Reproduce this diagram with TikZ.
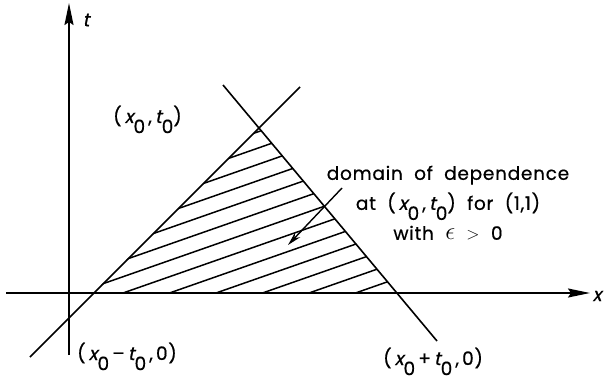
\documentclass[tikz,border=0pt]{standalone}
\usepackage{fontspec}
\setmainfont{Poppins}[LetterSpace=4, FakeBold=0.6]
\newfontfamily\slantfont[FakeSlant=0.22, LetterSpace=4, FakeBold=0.6]{Poppins}
\usetikzlibrary{arrows.meta}
\newcommand{\vx}{{\slantfont x}}
\newcommand{\vt}{{\slantfont t}}
\newcommand{\zs}{\raisebox{-0.55em}{0}}

\begin{document}
\begin{tikzpicture}[x=1pt, y=-1pt,
    axis/.style={line width=1.8pt, -{Stealth[length=22pt, width=9pt, inset=3pt]}},
    charline/.style={line width=1.6pt},
    hatch/.style={line width=1.5pt},
    lbl/.style={inner sep=0pt, font=\fontsize{18.5}{30}\selectfont, align=center}
  ]
  \useasboundingbox (0,0) rectangle (604,382);

  % corners of the domain
  \coordinate (L) at (93,293);
  \coordinate (A) at (259,128);
  \coordinate (R) at (397,293);

  % hatching
  \begin{scope}
    \clip (L) -- (A) -- (R) -- cycle;
    \foreach \k in {0,...,12} {
      \pgfmathsetmacro{\c}{-202.5+46.5*\k}
      \draw[hatch] (\c-100, 328) -- (\c+500, 118);
    }
  \end{scope}

  % axes
  \coordinate (tb) at (69,355);
  \coordinate (tt) at (69,3);
  \coordinate (xl) at (6,293);
  \coordinate (xr) at (590,293);
  \draw[axis] (tb) -- (tt);
  \draw[axis] (xl) -- (xr);

  % characteristics
  \coordinate (c1a) at (30,357);
  \coordinate (c1b) at (300,87);
  \coordinate (c2a) at (223,85);
  \coordinate (c2b) at (437,341);
  \draw[charline] (c1a) -- (c1b);
  \draw[charline] (c2a) -- (c2b);

  % labels
  \node[lbl] (tlab) at (86,20) {\vt};
  \node[lbl] (xlab) at (597,296) {\vx};
  \node[lbl, anchor=base west] (apex) at (113,123) {(\,\vx\zs\,,\,\vt\zs)};
  \node[lbl, anchor=base west] (left) at (77,360) {(\,\vx\zs\,--\,\vt\zs\,,\,0)};
  \node[lbl, anchor=base west] (right) at (383,365) {(\,\vx\zs\,+\,\vt\zs\,,\,0)};
  \node[lbl] (dom) at (448,203) {domain\ \ of\ \ dependence\\
    at\ \ (\,\vx\zs\,,\,\vt\zs)\ \ for\ \ (1,1)\\
    with\ \ {\fontsize{24}{24}\selectfont$\epsilon$}\ \ $>$\ \ 0};

  \coordinate (ptail) at (342,188);
  \coordinate (phead) at (288,245);
  \draw[line width=1.4pt, -{Stealth[length=14pt, width=7pt]}] (ptail) -- (phead);
\end{tikzpicture}
\end{document}
